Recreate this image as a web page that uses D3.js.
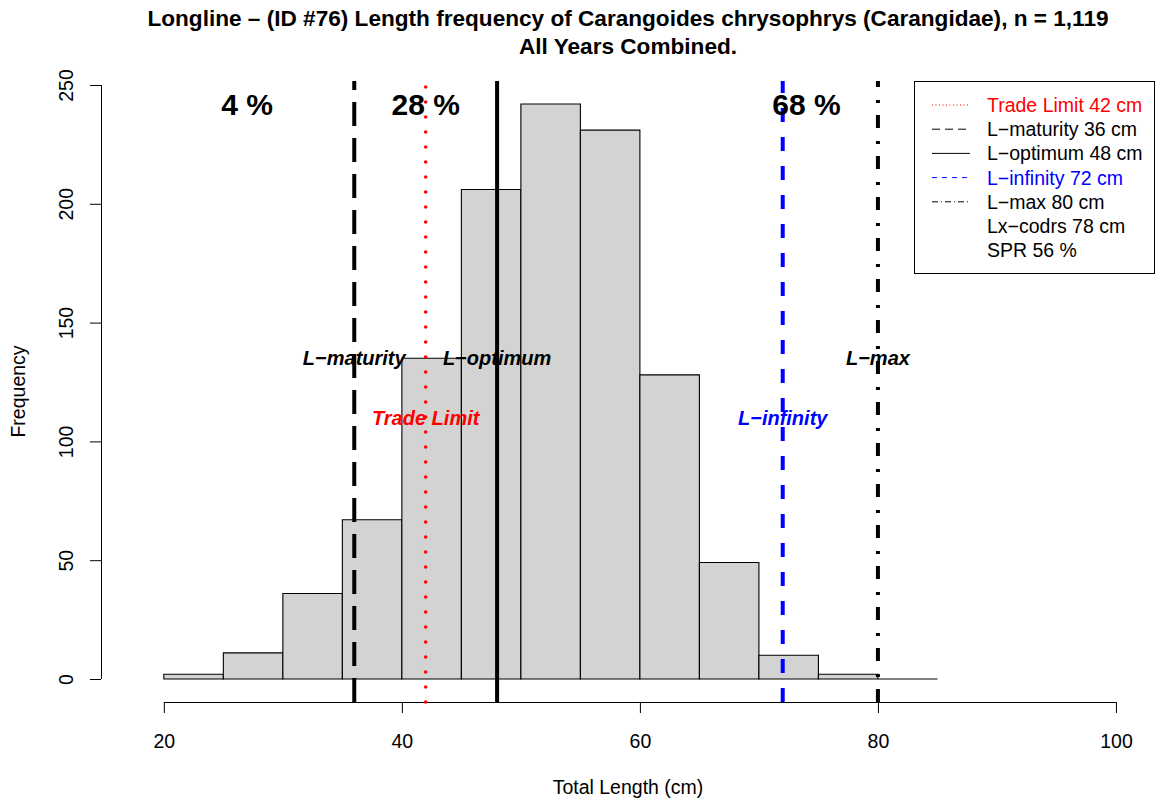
<!DOCTYPE html>
<html>
<head>
<meta charset="utf-8">
<script src="https://cdn.jsdelivr.net/npm/d3@7"></script>
<style>
html,body{margin:0;padding:0;background:#fff;}
svg{display:block;font-family:"Liberation Sans",Arial,sans-serif;}
</style>
</head>
<body>
<svg id="chart" width="1161" height="803"></svg>
<script>
// ---- data ----
const binStarts = [20,25,30,35,40,45,50,55,60,65,70,75,80];
const binWidth = 5;
const counts = [2,11,36,67,135,206,242,231,128,49,10,2,0];
const xTicks = [20,40,60,80,100];
const yTicks = [0,50,100,150,200,250];
const refNames = ["Trade Limit","L\u2212maturity","L\u2212optimum","L\u2212infinity","L\u2212max"];
const refValues = [42,36,48,72,80];
const refColors = ["red","black","black","blue","black"];
const legendLabels = ["Trade Limit 42 cm","L\u2212maturity 36 cm","L\u2212optimum 48 cm","L\u2212infinity 72 cm","L\u2212max 80 cm","Lx\u2212codrs 78 cm","SPR 56 %"];
const legendColors = ["red","black","black","blue","black","black","black"];
const pctLabels = ["4 %","28 %","68 %"];
const pctAt = [27,42,74];
const titleLines = ["Longline \u2013 (ID #76) Length frequency of Carangoides chrysophrys (Carangidae), n = 1,119","All Years Combined."];

// ---- layout ----
const svg = d3.select("#chart");
const x = d3.scaleLinear().domain([14.72,103.28]).range([101,1155]);
const y = d3.scaleLinear().domain([-9.68,251.68]).range([702,81]);
const plotL = 101, plotR = 1155, plotT = 81, plotB = 702;
const fs = "19.5px";

// title
svg.selectAll("text.title").data(titleLines).join("text")
  .attr("class","title")
  .attr("x",(plotL+plotR)/2).attr("y",(d,i)=>26+i*28)
  .attr("text-anchor","middle")
  .style("font-weight","bold").style("font-size","22.6px")
  .text(d=>d);

// bars
svg.append("g").selectAll("path").data(binStarts).join("path")
  .attr("d",(d,i)=>{
    const x0=x(d), x1=x(d+binWidth), y0=y(0), y1=y(counts[i]);
    return `M${x0},${y0}L${x0},${y1}L${x1},${y1}L${x1},${y0}Z`;
  })
  .attr("fill","#d3d3d3").attr("stroke","black").attr("stroke-width",1.1);

// axes
const xAxis = svg.append("g").attr("transform",`translate(0,${plotB})`)
  .call(d3.axisBottom(x).tickValues(xTicks).tickSize(11).tickPadding(21).tickSizeOuter(0));
xAxis.select(".domain").attr("d",`M${x(20)},0.5H${x(100)}`);
const yAxis = svg.append("g").attr("transform",`translate(${plotL},0)`)
  .call(d3.axisLeft(y).tickValues(yTicks).tickSize(11).tickSizeOuter(0));
yAxis.select(".domain").attr("d",`M0.5,${y(0)}V${y(250)}`);
yAxis.selectAll(".tick text").attr("transform","rotate(-90)")
  .attr("x",0).attr("y",-28).attr("dy","0").attr("text-anchor","middle");
svg.selectAll(".tick text").style("font-size",fs).style("font-family","Liberation Sans, Arial, sans-serif").attr("fill","black");
svg.selectAll(".tick line").attr("stroke","black");
svg.selectAll(".domain").attr("stroke","black");

svg.append("text").attr("x",(plotL+plotR)/2).attr("y",794)
  .attr("text-anchor","middle").style("font-size",fs).text("Total Length (cm)");
svg.append("text").attr("transform",`translate(25,${(plotT+plotB)/2}) rotate(-90)`)
  .attr("text-anchor","middle").style("font-size",fs).text("Frequency");

// reference lines
const dashes = ["0,15","24,12",null,"14,15","13,12,3,13"];
const caps = ["round","butt","butt","butt","butt"];
const widths = [3.5,4,4,4,4];
svg.append("g").selectAll("line").data(refValues).join("line")
  .attr("x1",d=>x(d)).attr("x2",d=>x(d))
  .attr("y1",plotB).attr("y2",plotT)
  .attr("stroke",(d,i)=>refColors[i])
  .attr("stroke-width",(d,i)=>widths[i])
  .attr("stroke-linecap",(d,i)=>caps[i])
  .attr("stroke-dasharray",(d,i)=>dashes[i]);

// line labels
const labelY = [110,135,135,110,135];
svg.append("g").selectAll("text").data(refNames).join("text")
  .attr("x",(d,i)=>x(refValues[i])).attr("y",(d,i)=>y(labelY[i])+7)
  .attr("text-anchor","middle")
  .style("font-weight","bold").style("font-style","italic").style("font-size","20px")
  .attr("fill",(d,i)=>refColors[i])
  .text(d=>d);

// percent labels
svg.append("g").selectAll("text").data(pctLabels).join("text")
  .attr("x",(d,i)=>x(pctAt[i])).attr("y",y(242)+11)
  .attr("text-anchor","middle")
  .style("font-weight","bold").style("font-size","30px")
  .text(d=>d);

// legend
const lg = svg.append("g");
lg.append("rect").attr("x",914.5).attr("y",81.5).attr("width",240).attr("height",192)
  .attr("fill","white").attr("stroke","black").attr("stroke-width",1);
const lgDash = ["1,2.5","8,5",null,"5,5","6,3,1,3",null,null];
const rows = legendLabels.map((d,i)=>i);
lg.selectAll("line").data(rows.slice(0,5)).join("line")
  .attr("x1",932).attr("x2",970)
  .attr("y1",i=>105+24.2*i).attr("y2",i=>105+24.2*i)
  .attr("stroke",i=>legendColors[i]).attr("stroke-width",1)
  .attr("stroke-dasharray",i=>lgDash[i]);
lg.selectAll("text").data(legendLabels).join("text")
  .attr("x",987).attr("y",(d,i)=>105+24.2*i+7)
  .style("font-size",fs)
  .attr("fill",(d,i)=>legendColors[i])
  .text(d=>d);
</script>
</body>
</html>
